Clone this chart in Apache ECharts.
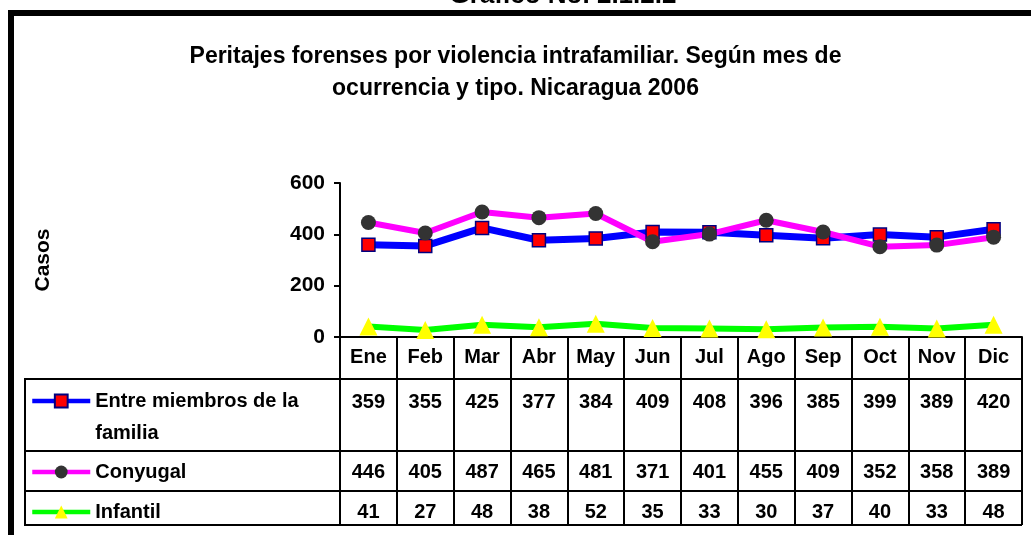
<!DOCTYPE html>
<html lang="es">
<head>
    <meta charset="UTF-8">
    <title>Gráfico No. 2.1.2.2</title>
    <script src="https://cdn.jsdelivr.net/npm/echarts@6/dist/echarts.min.js"></script>
    <style>
        body{ margin:0; background:#fff; }
        #main{ width:1031px; height:535px; }
    </style>
</head>
<body>
    <div id="main"></div>
    <script>
        // datos
        var meses = ['Ene', 'Feb', 'Mar', 'Abr', 'May', 'Jun', 'Jul', 'Ago', 'Sep', 'Oct', 'Nov', 'Dic'];
        var entreMiembros = [359, 355, 425, 377, 384, 409, 408, 396, 385, 399, 389, 420];
        var conyugal = [446, 405, 487, 465, 481, 371, 401, 455, 409, 352, 358, 389];
        var infantil = [41, 27, 48, 38, 52, 35, 33, 30, 37, 40, 33, 48];
        var nombres = ['Entre miembros de la familia', 'Conyugal', 'Infantil'];
        var yMin = 0, yMax = 600, yPaso = 200;

        var fuente = "'Liberation Sans', Arial, sans-serif";
        var negrita = { color: '#000', fontFamily: fuente, fontWeight: 'bold', fontSize: 21 };

        var myChart = echarts.init(document.getElementById('main'));

        // cada fila de la tabla es un eje x de categorias sin linea
        function filaTabla(valores, margen) {
            return {
                type: 'category',
                gridIndex: 0,
                position: 'bottom',
                data: valores.map(String),
                axisLine: { show: false },
                axisTick: { show: false },
                splitLine: { show: false },
                axisLabel: Object.assign({}, negrita, { interval: 0, margin: margen, verticalAlign: 'middle', fontSize: 20 })
            };
        }

        function leyenda(nombre, top, alto) {
            return {
                data: [nombre],
                left: 30,
                top: top,
                padding: 0,
                selectedMode: false,
                itemWidth: 58,
                itemHeight: 16,
                lineStyle: { width: 4.5 },
                formatter: function (n) {
                    // linea vacia arriba para que la primera linea quede a la altura del icono
                    return n === nombres[0] ? '\nEntre miembros de la\nfamilia' : n;
                },
                textStyle: Object.assign({}, negrita, { fontSize: 20, lineHeight: alto })
            };
        }

        var option = {
            animation: false,
            backgroundColor: '#fff',
            title: {
                text: 'Peritajes forenses por violencia intrafamiliar. Según mes de\nocurrencia y tipo. Nicaragua 2006',
                left: 'center',
                top: 41,
                padding: [0, 0, 0, 22],
                textStyle: Object.assign({}, negrita, { fontSize: 23, lineHeight: 32 })
            },
            legend: [
                leyenda(nombres[0], 353, 32),
                leyenda(nombres[1], 462, 20),
                leyenda(nombres[2], 502, 20)
            ],
            grid: { left: 340, right: 9, top: 183, bottom: 198, containLabel: false },
            xAxis: [
                {
                    type: 'category',
                    data: meses,
                    boundaryGap: true,
                    axisLine: { lineStyle: { color: '#000', width: 2 } },
                    axisTick: { show: true, interval: 0, length: 188, lineStyle: { color: '#000', width: 2 } },
                    axisLabel: Object.assign({}, negrita, { interval: 0, margin: 20, verticalAlign: 'middle', fontSize: 20 })
                },
                filaTabla(entreMiembros, 65),
                filaTabla(conyugal, 135),
                filaTabla(infantil, 175)
            ],
            yAxis: {
                type: 'value',
                min: yMin,
                max: yMax,
                interval: yPaso,
                name: 'Casos',
                nameLocation: 'middle',
                nameGap: 286,
                nameTextStyle: negrita,
                axisLine: { show: true, lineStyle: { color: '#000', width: 2 } },
                axisTick: { show: true, length: 6, lineStyle: { color: '#000', width: 2 } },
                splitLine: { show: false },
                axisLabel: Object.assign({ margin: 15 }, negrita)
            },
            series: [
                {
                    name: nombres[0],
                    type: 'line',
                    data: entreMiembros,
                    symbol: 'rect',
                    symbolSize: 13,
                    lineStyle: { color: '#0000ff', width: 7 },
                    itemStyle: { color: '#ff0000', borderColor: '#000080', borderWidth: 1.5 }
                },
                {
                    name: nombres[1],
                    type: 'line',
                    data: conyugal,
                    symbol: 'circle',
                    symbolSize: 15,
                    lineStyle: { color: '#ff00ff', width: 6 },
                    itemStyle: { color: '#333333', borderWidth: 0 }
                },
                {
                    name: nombres[2],
                    type: 'line',
                    data: infantil,
                    symbol: 'triangle',
                    symbolSize: 18,
                    lineStyle: { color: '#00ff00', width: 6 },
                    itemStyle: { color: '#ffff00', borderWidth: 0 }
                }
            ],
            graphic: [
                // titulo superior, cortado por el borde de la imagen
                {
                    type: 'text', x: 563, y: -4, silent: true,
                    style: { text: 'Gráfico No. 2.1.2.2', align: 'center', verticalAlign: 'middle', fill: '#000', font: 'bold 26px ' + fuente }
                },
                // marco
                {
                    type: 'rect', silent: true,
                    shape: { x: 11, y: 13, width: 1100, height: 600 },
                    style: { fill: null, stroke: '#000', lineWidth: 6 }
                },
                // lineas de la tabla
                { type: 'line', silent: true, shape: { x1: 25, y1: 379, x2: 1022, y2: 379 }, style: { stroke: '#000', lineWidth: 2 } },
                { type: 'line', silent: true, shape: { x1: 25, y1: 451, x2: 1022, y2: 451 }, style: { stroke: '#000', lineWidth: 2 } },
                { type: 'line', silent: true, shape: { x1: 25, y1: 491, x2: 1022, y2: 491 }, style: { stroke: '#000', lineWidth: 2 } },
                { type: 'line', silent: true, shape: { x1: 25, y1: 525, x2: 1022, y2: 525 }, style: { stroke: '#000', lineWidth: 2 } },
                { type: 'line', silent: true, shape: { x1: 25, y1: 378, x2: 25, y2: 526 }, style: { stroke: '#000', lineWidth: 2 } }
            ]
        };
        myChart.setOption(option);
    </script>
</body>
</html>
